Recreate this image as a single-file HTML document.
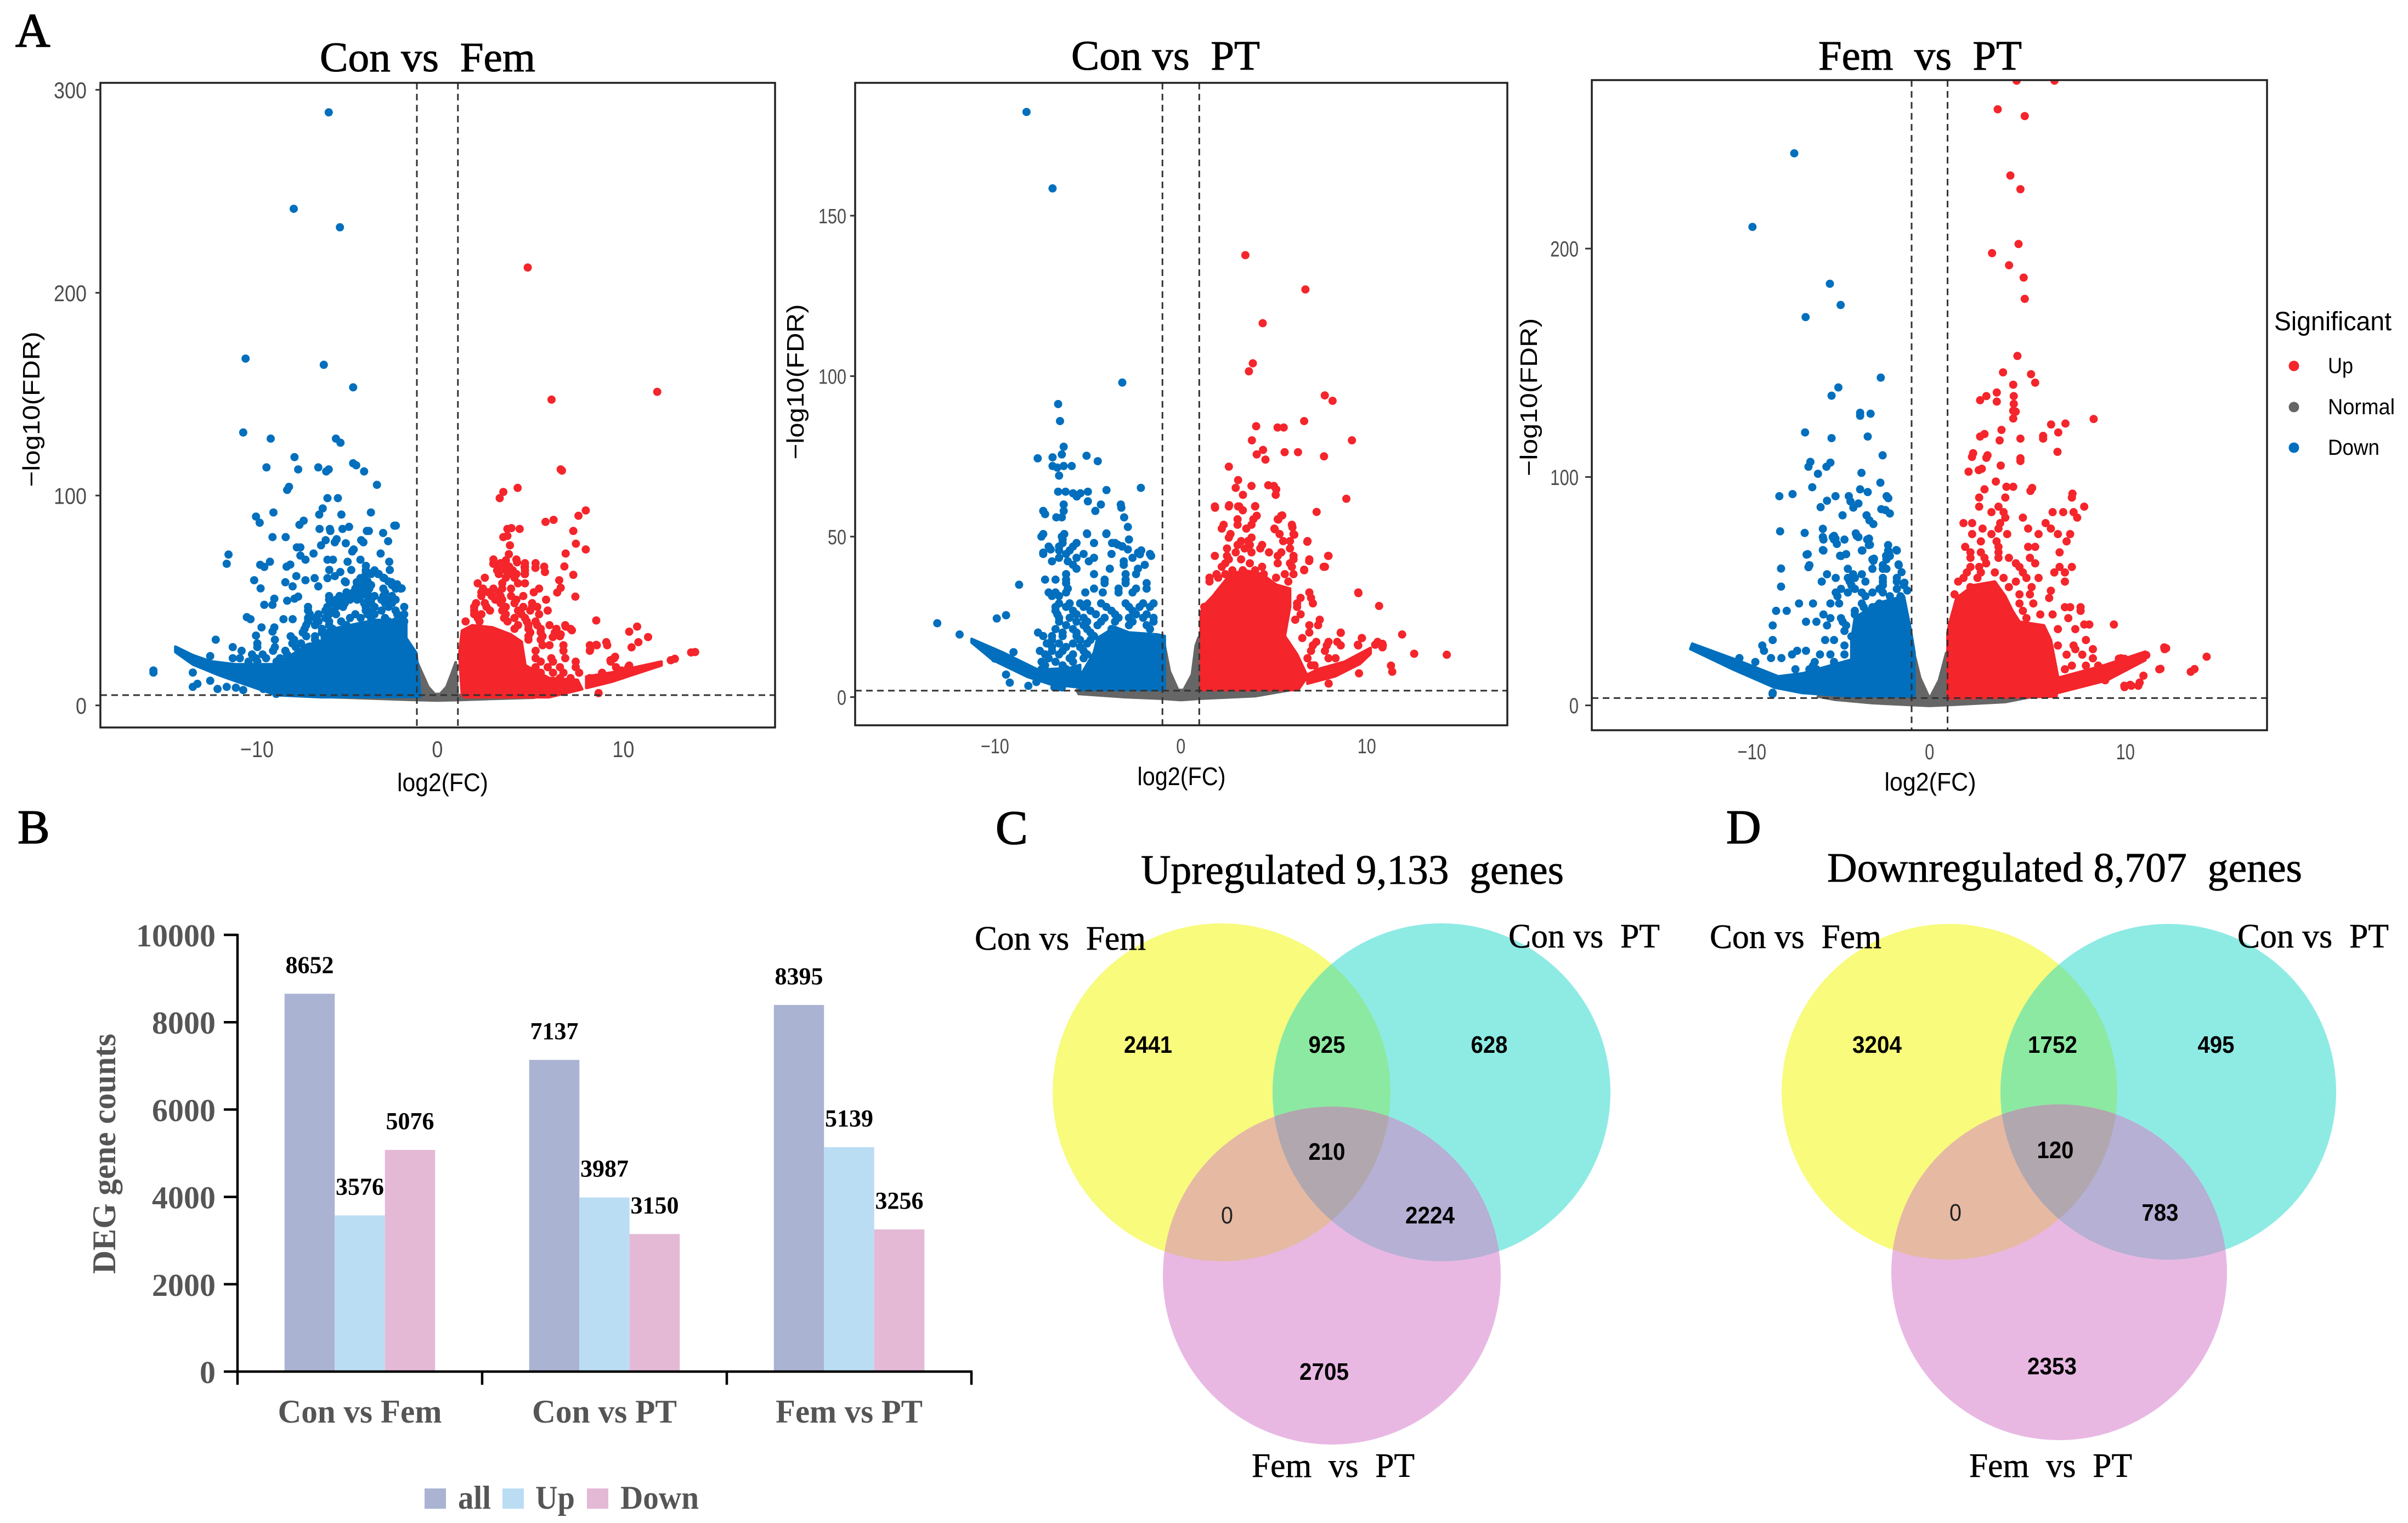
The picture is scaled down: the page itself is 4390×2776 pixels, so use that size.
<!DOCTYPE html>
<html lang="en">
<head>
<meta charset="utf-8">
<title>Differentially expressed genes: volcano plots, counts and Venn diagrams</title>
<style>
html,body{margin:0;padding:0;background:#fff}
svg{display:block}
text{white-space:pre}
.serif{font-family:"Liberation Serif",serif;fill:#000}
.sans{font-family:"Liberation Sans",sans-serif}
.panel-letter{font-size:88px;stroke:#000;stroke-width:1.6px}
.plot-title{font-size:76px;stroke:#000;stroke-width:1px}
.venn-title{font-size:76px;stroke:#000;stroke-width:.8px}
.venn-set{font-size:62px;stroke:#000;stroke-width:.6px}
.venn-num{font-family:"Liberation Sans",sans-serif;font-size:44px;font-weight:bold;text-anchor:middle;fill:#000}
.venn-zero{font-family:"Liberation Sans",sans-serif;font-size:44px;text-anchor:middle;fill:#222}
.bar-axis-text{font-family:"Liberation Serif",serif;font-weight:bold;fill:#555}
</style>
</head>
<body>
<svg id="figure" xmlns="http://www.w3.org/2000/svg" width="4390" height="2776" viewBox="0 0 4390 2776">
  <rect width="4390" height="2776" fill="#fff"/>

  <text class="serif panel-letter" x="28" y="85">A</text>
  <text class="serif panel-letter" x="32" y="1537">B</text>
  <text class="serif panel-letter" x="1815" y="1538">C</text>
  <text class="serif panel-letter" x="3147" y="1537">D</text>

  <text class="serif plot-title" x="583" y="130" textLength="393" lengthAdjust="spacingAndGlyphs">Con vs  Fem</text>
  <text class="serif plot-title" x="1953" y="127" textLength="344" lengthAdjust="spacingAndGlyphs">Con vs  PT</text>
  <text class="serif plot-title" x="3315" y="127" textLength="371" lengthAdjust="spacingAndGlyphs">Fem  vs  PT</text>

  <g id="volcanoes"></g>

  <g>
    <text class="sans" x="4146" y="602" font-size="48" textLength="214" lengthAdjust="spacingAndGlyphs" fill="#000">Significant</text>
    <circle cx="4182" cy="667" r="9.5" fill="#F4252B"/>
    <text class="sans" x="4244" y="680" font-size="40" textLength="46" lengthAdjust="spacingAndGlyphs" fill="#000">Up</text>
    <circle cx="4182" cy="742" r="9.5" fill="#666"/>
    <text class="sans" x="4244" y="755" font-size="40" textLength="122" lengthAdjust="spacingAndGlyphs" fill="#000">Normal</text>
    <circle cx="4182" cy="816" r="9.5" fill="#016FBD"/>
    <text class="sans" x="4244" y="829" font-size="40" textLength="94" lengthAdjust="spacingAndGlyphs" fill="#000">Down</text>
  </g>

  <g id="bars"></g>

  <defs>
    <clipPath id="cY"><circle cx="2227" cy="1991" r="308"/></clipPath>
    <clipPath id="cT"><circle cx="2628" cy="1991" r="308"/></clipPath>
    <clipPath id="dY"><circle cx="3554" cy="1990" r="306"/></clipPath>
    <clipPath id="dT"><circle cx="3953" cy="1990" r="306"/></clipPath>
  </defs>

  <g>
    <text class="serif venn-title" x="2080" y="1611" textLength="771" lengthAdjust="spacingAndGlyphs">Upregulated 9,133  genes</text>
    <circle cx="2227" cy="1991" r="308" fill="#F8FB7C"/>
    <circle cx="2628" cy="1991" r="308" fill="#8EEBE4"/>
    <circle cx="2428" cy="2325" r="308" fill="#E8B8E3"/>
    <circle cx="2628" cy="1991" r="308" fill="#8CE9A2" clip-path="url(#cY)"/>
    <circle cx="2428" cy="2325" r="308" fill="#E6B9A3" clip-path="url(#cY)"/>
    <circle cx="2428" cy="2325" r="308" fill="#B5B0D4" clip-path="url(#cT)"/>
    <g clip-path="url(#cY)"><circle cx="2428" cy="2325" r="308" fill="#B1A7AE" clip-path="url(#cT)"/></g>
    <text class="serif venn-set" x="1777" y="1731" textLength="312" lengthAdjust="spacingAndGlyphs">Con vs  Fem</text>
    <text class="serif venn-set" x="2750" y="1727" textLength="276" lengthAdjust="spacingAndGlyphs">Con vs  PT</text>
    <text class="serif venn-set" x="2282" y="2692" textLength="297" lengthAdjust="spacingAndGlyphs">Fem  vs  PT</text>
    <text class="venn-num" x="2093" y="1919" textLength="88" lengthAdjust="spacingAndGlyphs">2441</text>
    <text class="venn-num" x="2419" y="1919" textLength="67" lengthAdjust="spacingAndGlyphs">925</text>
    <text class="venn-num" x="2715" y="1919" textLength="67" lengthAdjust="spacingAndGlyphs">628</text>
    <text class="venn-num" x="2419" y="2114" textLength="67" lengthAdjust="spacingAndGlyphs">210</text>
    <text class="venn-zero" x="2237" y="2230" textLength="22" lengthAdjust="spacingAndGlyphs">0</text>
    <text class="venn-num" x="2607" y="2230" textLength="90" lengthAdjust="spacingAndGlyphs">2224</text>
    <text class="venn-num" x="2414" y="2515" textLength="90" lengthAdjust="spacingAndGlyphs">2705</text>
  </g>

  <g>
    <text class="serif venn-title" x="3331" y="1607" textLength="866" lengthAdjust="spacingAndGlyphs">Downregulated 8,707  genes</text>
    <circle cx="3554" cy="1990" r="306" fill="#F8FB7C"/>
    <circle cx="3953" cy="1990" r="306" fill="#8EEBE4"/>
    <circle cx="3754" cy="2319" r="306" fill="#E8B8E3"/>
    <circle cx="3953" cy="1990" r="306" fill="#8CE9A2" clip-path="url(#dY)"/>
    <circle cx="3754" cy="2319" r="306" fill="#E6B9A3" clip-path="url(#dY)"/>
    <circle cx="3754" cy="2319" r="306" fill="#B5B0D4" clip-path="url(#dT)"/>
    <g clip-path="url(#dY)"><circle cx="3754" cy="2319" r="306" fill="#B1A7AE" clip-path="url(#dT)"/></g>
    <text class="serif venn-set" x="3117" y="1728" textLength="313" lengthAdjust="spacingAndGlyphs">Con vs  Fem</text>
    <text class="serif venn-set" x="4079" y="1727" textLength="276" lengthAdjust="spacingAndGlyphs">Con vs  PT</text>
    <text class="serif venn-set" x="3590" y="2692" textLength="297" lengthAdjust="spacingAndGlyphs">Fem  vs  PT</text>
    <text class="venn-num" x="3422" y="1919" textLength="90" lengthAdjust="spacingAndGlyphs">3204</text>
    <text class="venn-num" x="3742" y="1919" textLength="90" lengthAdjust="spacingAndGlyphs">1752</text>
    <text class="venn-num" x="4040" y="1919" textLength="67" lengthAdjust="spacingAndGlyphs">495</text>
    <text class="venn-num" x="3747" y="2111" textLength="67" lengthAdjust="spacingAndGlyphs">120</text>
    <text class="venn-zero" x="3565" y="2225" textLength="22" lengthAdjust="spacingAndGlyphs">0</text>
    <text class="venn-num" x="3938" y="2225" textLength="67" lengthAdjust="spacingAndGlyphs">783</text>
    <text class="venn-num" x="3741" y="2505" textLength="90" lengthAdjust="spacingAndGlyphs">2353</text>
  </g>
</svg>

<script>
// ---------- bar chart data ----------
const barCategories = ['Con vs Fem', 'Con vs PT', 'Fem vs PT'];
const barAll = [8652, 7137, 8395];
const barUp = [3576, 3987, 5139];
const barDown = [5076, 3150, 3256];
const barTicks = [0, 2000, 4000, 6000, 8000, 10000];

// ---------- volcano data: [log2FC, -log10FDR] ----------
const xTickValues = [-10, 0, 10];
const femTicks = [0, 100, 200, 300];
const ptTicks = [0, 50, 100, 150];
const femPtTicks = [0, 100, 200];

const femDown = [[-5.93,289],[-7.84,242],[-5.32,233],[-10.47,169],[-6.2,166],[-4.6,155],[-10.6,133],[-9.1,130],[-5.54,130],[-5.29,128],[-7.8,121],[-9.33,116],[-7.6,115],[-6.5,116],[-6.07,114],[-5.93,115],[-4.6,118],[-4.43,117],[-4,114],[-3.3,107.5],[-8.1,106.5],[-8.2,105],[-6,101],[-5.43,101],[-6.26,96],[-6.45,93],[-8.95,94],[-9.9,92],[-9.7,89],[-5.24,93],[-3.63,94],[-7.3,90],[-7.53,88],[-2.35,87.6],[-2.27,87.6],[-6.43,86],[-5.87,86],[-5.84,85],[-5.18,86],[-4.82,87],[-3.85,85],[-3.74,85],[-2.96,84],[-9,82],[-8.28,82],[-2.69,80],[-4.16,80.5],[-4.04,79.5],[-5.5,81],[-5.6,79.5],[-6.1,80.5],[-6.35,78],[-5,79],[-7.67,77],[-7.48,77],[-4.57,76],[-4.65,75],[-7.48,73],[-7.2,71],[-6.76,74],[-3.1,74],[-11.4,73.5],[-11.5,69],[-9.14,70],[-9.67,68.5],[-9.45,67.5],[-8.03,68.6],[-8.23,67.6],[-2.63,70],[-6,71],[-5.7,71],[-4.9,70],[-4.2,71],[-3.9,68],[-3.5,65],[-3.2,64],[-2.9,62],[-2.5,60],[-2.2,59],[-1.95,57],[-2.6,66],[-10,61],[-9.65,57],[-8.3,60],[-7.7,63],[-7.9,58],[-7.2,61],[-6.7,62],[-6.5,58],[-6,62],[-5.9,66],[-5.6,63],[-5.3,65],[-5,60],[-4.7,66],[-4.4,60],[-4.2,62],[-7.6,53],[-7.8,52],[-8.2,51],[-8.9,52],[-9,49],[-9.45,49],[-7.9,42],[-8.4,42],[-8.9,38],[-9,36],[-10.2,42],[-10.4,43],[-9.6,38],[-9.9,34],[-12.1,32],[-12.4,24],[-13.35,16],[-13.35,9],[-13.1,10.5],[-12.4,12],[-12,8],[-11.5,9],[-11,8.6],[-10.6,7.5],[-9.5,8],[-8.8,5.6],[-15.5,17],[-15.5,16]];
const femDownRows = [[65.8,-3.91,-3.43],[64,-3.91,-3.62,-3.24],[62.2,-4,-2.95],[60.4,-3.81,-2.67,-5.05],[58.6,-4.38,-4,-3.62,-2.48],[56.9,-4.48,-4.1,-3.72,-2.95,-2.28,-2],[55.1,-4.96,-4.58,-4.19,-3.81,-2.86],[53.3,-5.91,-5.34,-4.96,-4.58,-4.19,-3.81,-3.43,-2.95,-2.48],[51.5,-5.91,-5.53,-5.15,-4.77,-4.38,-3.62,-3.05,-2.67,-2.28],[49.8,-5.82,-5.44,-5.05,-4,-3.62,-2.86,-2.48],[48,-7.06,-6.01,-5.53,-5.15,-3.91,-3.43,-2.67,-1.81],[46.2,-7.06,-6.11,-5.63,-3.91,-3.53,-3.05,-2.28],[44.4,-6.96,-6.49,-5.91,-5.53,-4.48,-3.81,-3.43,-2.19,-1.81],[42.6,-7.06,-6.68,-6.11,-4.77,-4.19,-3.62,-2.86,-1.9],[40.9,-7.06,-6.49,-5.91,-5.25,-2.67,-2.28,-1.81],[39.1,-7.16,-6.68,-5.91,-4.96],[37.3,-7.25,-6.3,-5.72],[35.5,-7.35,-6.3],[33.7,-8.01,-7.16,-6.68,-5.91],[32,-8.87,-7.82,-6.68,-6.11],[30.2,-9.83,-7.92,-7.44,-6.49],[28.4,-11.17,-9.83,-8.87,-7.73,-7.06,-6.68],[26.6,-10.69,-8.97,-8.3,-7.25,-6.87],[24.8,-10.12,-9.54,-8.2,-7.54,-6.77],[23,-11.17,-10.78,-9.92,-9.35,-8.59,-7.73],[21.3,-10.31,-9.83,-8.78,-8.2,-7.16]];
const femUp = [[4.93,213.4],[6.23,149],[12,152.8],[6.73,115],[6.8,114.4],[4.38,106],[3.6,104],[3.4,101],[8.1,95],[7.7,92.4],[6.34,90.4],[5.9,89.4],[7.42,85],[3.82,86],[4.04,86.4],[4.49,86],[3.6,82],[3.82,82.6],[7.56,78.8],[8.1,76],[3.96,78],[3.9,73.7],[7,74],[3.05,69],[3.55,68.7],[3.74,70.7],[4.35,69.7],[6.93,67.7],[4.76,67.4],[5.35,67],[4.76,64],[5.87,65],[7.42,63.6],[6.65,61],[6.73,57.3],[6.54,55],[7.53,53],[8.67,41.4],[7,38.4],[7.34,36.6],[6.73,34.6],[6.3,33.3],[10.9,38.4],[10.47,35.9],[11.5,33.3],[10.97,30.8],[10.6,28.3],[9.22,30.8],[8.67,29.5],[8.34,27.3],[9.7,23.7],[9.45,22],[10.47,19.4],[10.05,17],[12.74,22],[12.96,22.7],[13.85,25.8],[14.07,26],[8.8,6]];
const femUpRows = [[71.1,3.06,4.31],[69.3,3.45,3.73,4.78,5.36],[67.6,3.45,3.92,4.78,5.83],[65.8,3.26,3.73,4.11,4.78],[64,3.35,3.92,4.31,4.78],[62.2,2.59,3.73,4.21],[59.5,2.2,3.54,4.4,4.78],[56.9,2.49,3.06,3.54,4.02,5.55],[55.1,2.4,2.78,3.35,5.26],[53.3,2.4,2.97,3.45,4.02,4.69],[51.5,3.16,3.54,4.31,5.93],[49.8,2.11,2.59,3.45,4.21,5.17],[48,2.01,2.68,3.73,4.69,5.17,5.45],[46.2,2.01,2.87,3.54,4.4,5.07,6.02],[44.4,2.01,2.4,3.73,4.59,5.55],[42.6,2.2,3.64,4.21,4.78],[40.9,1.54,2.3,3.83,4.88,5.36],[39.1,4.4,4.97,5.45,6.12,6.98],[37.3,4.21,4.97,5.64,6.5,7.27],[35.5,5.07,5.64,6.41],[33.7,4.97,5.74,6.69],[32,4.97,5.64],[29.3,5.74,6.12,6.88,8.32,8.7,9.27],[26.6,5.36,6.88,8.32],[23,5.36,6.22,6.98,9.65],[21.3,5.64,6.31,7.55,9.46],[18.6,5.36,6.02,6.69,7.55,9.75,10.42],[15.9,5.64,6.31,6.88,7.74,8.99],[13.3,6.69,7.27,8.32]];
const ptDown = [[-8.3,182.3],[-6.9,158.5],[-3.15,98],[-6.6,91.3],[-6.5,86],[-6.3,78],[-6.9,74.7],[-6.4,75.6],[-7.7,74.4],[-5.07,75.2],[-4.47,73.5],[-6.9,72],[-6.65,71.5],[-6.3,72],[-5.87,72],[-6.55,69],[-2.15,65.2],[-4,64.5],[-6.6,64],[-6.2,64],[-5.8,63.5],[-5.4,63.5],[-5,64],[-5.6,62.5],[-5,61],[-4.6,58],[-4.3,60],[-3.23,60],[-3.2,59],[-3.05,56],[-2.85,53],[-7.4,58],[-7.3,57],[-6.7,56],[-6.4,56],[-6.3,58],[-6.3,60],[-5.05,51],[-4,51],[-7.5,50],[-6.4,50],[-3.7,48],[-3.4,47.5],[-3.15,47],[-2.85,46],[-2.3,45],[-2.2,44.5],[-1.6,44],[-7.4,45],[-7,46],[-8.7,35],[-9.9,24.5],[-9.4,25.5],[-13.1,23],[-11.9,19.5],[-9,14],[-10,12],[-9.4,7],[-9.2,4.5],[-8.2,3.5],[-6.8,3],[-6.4,3],[-7.7,6]];
const ptDownRows = [[50.8,-7.4,-6.27,-5.04,-4.01],[49.1,-6.36,-2.79],[48,-6.36,-5.61,-4.67,-3.54],[46.9,-7.11,-6.55,-5.8,-3.16],[45.7,-6.55,-5.98,-2.13],[44.6,-7.4,-6.17,-5.23,-3.73,-1.66],[43.4,-6.55,-5.61,-4.67,-2.6],[42.3,-6.93,-6.08,-4.95,-3.07],[41.2,-5.8,-3.07,-1.94],[40,-5.61,-3.82,-2.31],[38.3,-6.17,-4.67,-2.97,-2.41],[36.6,-7.3,-6.74,-6.17,-4.1,-2.97],[35.5,-6.17,-4.1,-2.97,-1.84],[33.8,-6.08,-4.67,-3.35,-2.41,-1.84],[32.6,-7.11,-6.74,-6.17,-5.14,-4.2,-3.35,-2.6],[31.5,-6.93,-6.55],[29.2,-6.55,-5.98,-5.42,-5.04,-4.29,-2.97,-2.03,-1.47],[28.1,-6.74,-6.17,-5.23,-4.01,-2.79,-2.22,-1.66],[26.9,-6.74,-5.8,-4.86,-3.73,-2.6],[25.8,-6.64,-5.61,-4.57,-3.54,-2.41,-1.84],[24.7,-6.55,-5.98,-5.23,-4.1,-3.35,-2.79,-2.03,-1.47],[23.5,-6.55,-5.61,-5.04,-4.29,-3.54,-2.6,-1.47],[22.4,-6.17,-5.23,-4.48,-2.79,-1.84],[21.2,-6.74,-5.8,-5.04,-3.73,-1.66],[20.1,-7.68,-6.36,-5.61,-4.86],[19,-7.4,-6.93,-6.36,-5.61,-4.67],[17.8,-6.93,-5.42,-4.86],[16.7,-7.21,-6.55,-5.8,-5.04],[15.6,-6.93,-6.17,-5.42],[14.4,-7.58,-6.93,-6.36,-5.23],[13.3,-7.3,-6.55,-5.8,-5.04],[12.1,-7.11,-5.98,-5.23],[11,-7.49,-6.74,-5.8],[9.9,-7.3,-6.36],[8.7,-7.49,-6.17],[6.4,-7.3,-6.74],[4.7,-7.77]];
const ptUp = [[3.47,137.7],[6.7,127],[4.4,116.5],[3.87,104],[3.66,101.5],[7.74,94],[8.16,92.3],[6.63,86],[4.05,84.4],[5.2,84],[5.53,84],[9.2,80],[3.82,80],[4.42,77],[4.08,75.6],[4.55,74],[5.58,76.3],[6.3,76.3],[7.7,75],[2.58,71.8],[3.08,67.6],[3.8,65.8],[2.95,65.2],[3.34,63],[4.7,66],[5,65.8],[5.13,64.7],[5.1,63],[8.9,61.8],[1.84,59],[2.6,59.8],[3.08,59.4],[4,59.5],[7.3,57.7],[5.45,56.6],[5.24,55.3],[5.05,52.3],[6,52.9],[6.1,50.6],[6.8,48.4],[7.92,44],[7.68,40.6],[6.9,42.4],[6.63,39.7],[9.55,32.4],[10.66,28.4],[11.9,19.5],[12.55,13.5],[14.3,13.2],[11.3,9.8],[11.37,7.9],[8.6,20],[9.74,18.4],[9.52,16.3],[10.45,16.3],[10.84,16.6],[10.84,15.5],[9.58,7.4],[7.95,4.2]];
const ptUpRows = [[59.4,1.83,2.58,3.14,3.99],[58.2,3.33],[56.5,4.08,5.4],[55.4,3.05,3.9,5.21],[53.7,2.3,3.05,3.8,5.97],[52.5,2.2,3.52,5.03],[50.8,2.67,5.31,6.06],[49.7,2.58,3.8],[48.6,3.24,3.61,5.5,5.87,6.81],[47.4,3.05,3.71,4.37],[46.3,2.48,3.43,4.27,5.87],[45.1,2.95,3.8,4.74,5.4],[44,1.83,2.48,5.21,6.06,7.94],[42.9,2.58,3.24,6.06,6.91],[41.7,2.39,3.71,5.21,5.87],[40.6,2.2,4.37,5.97,7.75],[39.5,2.77,3.33,3.99,6.63],[38.3,1.92,2.39,4.46,5.59,6.06],[37.2,1.54,2.01,5.12],[36,1.54,5.78],[32.6,6.91,9.54],[30.9,7,6.44],[29.2,7.1,5.68,6.25],[28.1,6.25,1.26,1.54],[25.8,5.59,6.44],[24.1,7.47,6.15],[22.4,6.91,7.38],[20.1,6.91,8.6],[18.4,6.53,9.73],[17.2,7.28,7.94,8.41,10.58],[16.1,7.1,7.85,8.6,9.54,10.86],[14.4,7,7.75],[12.1,6.81,7.94,8.32],[9.9,7.19,7]];
const femPtDown = [[-7.15,241.7],[-9.36,209.5],[-5.27,184.6],[-4.7,175.3],[-6.55,170],[-2.58,143.5],[-4.82,139.2],[-5.18,135.6],[-3.67,128.1],[-3.67,126.8],[-3.12,127.7],[-6.58,119.5],[-5.18,117],[-3.27,117.7],[-2.48,109.5],[-6.3,106.6],[-6.4,104.5],[-5.24,106.3],[-5.45,104.5],[-5.9,101.4],[-3.6,101.8],[-2.6,97.5],[-6.2,95.5],[-3.67,94.6],[-3.27,93.4],[-7.94,91.6],[-7.24,92.5],[-4.97,91.6],[-5.42,89.6],[-4.27,91.6],[-4.18,89.3],[-4.03,86.6],[-3.76,88.4],[-2.27,91.6],[-2.18,90.7],[-5.76,86.8],[-4.6,83.2],[-2.55,85.9],[-2.33,85.5],[-2.1,84],[-3.33,83.2],[-3.18,81],[-2.97,79.4],[-7.9,76.2],[-6.6,75.5],[-5.64,77.3],[-5.64,73.7],[-5.12,73.7],[-4.97,73],[-4.9,70.7],[-3.9,75.3],[-3.76,73.7],[-3.2,73],[-3.15,70.3],[-3.55,67.8],[-5.64,68],[-6.5,66],[-4.73,65.5],[-6.4,60.5],[-7.85,59.9],[-7.85,52],[-2.94,64.2],[-2.97,63.3],[-2.3,65.5],[-2.15,66.4],[-1.76,68],[-1.64,61.7],[-1.48,58.3],[-1.33,53.7],[-1.18,50.3],[-8.3,5]];
const femPtDownRows = [[74.2,-5.05,-3.85],[72.6,-5.61,-5.05,-4.5,-3.3],[70.2,-3.21,-2.19],[67.8,-5.61,-3.58,-2.19,-1.73],[66.2,-6.44,-4.41],[65.4,-4.68,-2.1],[63.9,-3.02,-2.28],[61.4,-6.35,-2.47,-1.63],[59.8,-4.32,-3.02,-2.47,-2.28],[57.4,-5.42,-4.04,-3.58],[55.8,-4.96,-4.32,-3.95,-2.47,-1.73],[54.2,-5.7,-4.22,-3.39,-2.47,-1.73],[52.6,-4.13,-2.47,-1.36],[51,-4.68,-3.95,-2.65,-1.73],[49.4,-4.96,-4.32,-3.58,-3.02,-2.47],[47.8,-4.87,-3.39,-2.1,-1.54],[44.6,-6.9,-6.16,-5.24,-4.78,-3.58,-2.65],[43,-3.48,-3.02,-2.47],[41.4,-8.11,-7.55,-3.95,-2.65,-2.1],[39.8,-5.61,-3.95,-3.21,-2.28,-1.73],[38.2,-5.24,-4.68,-3.76],[36.6,-6.53,-5.98,-4.59],[35,-8.29,-5.42,-4.41],[32.6,-4.5,-3.76],[30.2,-4.13],[28.6,-5.52,-5.05,-8.29],[26.2,-8.84,-4.5],[23.9,-7,-8.75,-6.53],[22.3,-7.27,-5.79,-5.24,-4.5],[20.7,-10.05,-8.38,-7.83],[19,-9.21,-6.07,-5.05],[17.4,-5.05,-6.16],[15.8,-7.09,-6.35,-5.98],[5.5,-8.29]];
const femPtUp = [[4.6,273.5],[6.6,273.5],[3.6,261],[5.03,258],[4.27,232],[4.8,226],[4.7,202],[3.3,198],[4.2,192.7],[4.97,187.3],[5.03,178],[4.64,153],[3.88,145.8],[5.36,145],[5.58,141.3],[3.55,137],[4.42,140.4],[3,135.4],[2.67,133.6],[3.55,133],[4.45,135.4],[4.45,132],[4.42,129],[4.55,128.6],[4.42,125.6],[8.67,125.4],[6.42,123],[7.18,123.4],[6.8,119.5],[6,118],[6,116.8],[3.8,120.6],[2.9,118.8],[2.67,117.7],[3.7,116],[4.8,116.8],[6.76,111],[2.3,110.4],[2.24,108.8],[3.06,109.5],[3,108.4],[4.8,108.2],[4.8,107],[3.76,105],[2.76,103.6],[2.6,103],[2.06,102.3],[3.5,98],[4.06,95.7],[4.42,95.7],[2.9,94.6],[5.42,95.2],[5.33,93.9],[7.55,92.7],[11.45,22],[10,20.4],[10.3,20.4],[12.4,25.4],[12.5,25],[12.2,16],[13.8,14.7],[14,15.9],[14.64,21.3],[11.3,13],[11.1,10],[10.6,9],[10.3,8]];
const femPtUpRows = [[91,2.62,4,7.52],[87,2.62,3.64,8.17],[84.6,3.27,3.91,6.5,7.06,7.61],[82.2,4,4.93,7.8],[79.8,1.79,2.25,3.73,6.13],[77.4,2.8,3.64,5.21,6.41],[75,2.25,3.27,4.1,5.76,6.78,7.43],[71.8,2.71,3.54,7.24],[69.4,1.88,3.64,5.21,5.58],[67,2.16,2.71,3.64,6.87],[64.6,2.16,2.9,3.64,4.19,5.3],[62.2,2.99,4.56,5.58],[60.6,2.16,2.62,4.75,6.87,7.52],[58.2,1.97,2.71,3.45,4.93,6.59,7.15],[55.8,1.79,2.53,3.91,5.12,5.76],[54.2,1.51,4.56,7.15],[51.8,2.16,2.71,4.19,5.39],[50.2,6.41],[48.6,1.32,4.75,5.3],[47,6.32],[44.6,5.48,4.75],[43,7.15,7.43,7.98],[41.4,4.93,7.98],[39.8,5.85,6.5],[38.2,7.33,5.12],[35.4,9.74,8.17,8.44],[33.4,6.78,7.7],[28.6,8.26],[26.2,7.61,6.78],[24.6,12.42,7.7,8.63],[22.2,7.24,8.07],[20.6,10.11,8.63],[17.4,7.52,8.91,8.26],[15.8,12.14,7.15],[12.6,8.07],[11,9.28],[8.6,11.03,10.66,10.29]];

// outlines of the solid, fully overlapped parts of each cloud
const femDownSolid = [[-6.3,4],[-6.3,36],[-5.34,38],[-3.4,41.6],[-1.7,41.6],[-1.7,32.8],[-1.15,25.5],[-0.93,5],[-0.93,4.2]];
const femDownBand = [[-14.3,28.6],[-13.36,24.5],[-12.4,21.5],[-11.07,20],[-8.78,20],[-7,30],[-6.3,30],[-6.3,4],[-8.78,5],[-11.07,12],[-12,15],[-13.36,20],[-14.3,26]];
const femUpSolid = [[1.34,5],[1.2,25],[1.34,36.4],[1.9,39],[3,38],[4,34.6],[4.6,31],[4.8,19.5],[6.1,13.3],[7.65,12.4],[7.9,7.9],[6.1,4],[1.5,4]];
const femUpBand = [[8.13,14],[9.5,16],[12.23,21.3],[12.23,19.5],[9.5,11.5],[8.13,8.5]];
const femNormal = [[-5.7,5],[-1.1,5],[-1.1,21],[-0.85,16],[-0.5,9],[-0.15,5.5],[0.15,5.5],[0.5,9],[0.8,16],[1,21],[1.1,5],[5.3,5],[5.3,3.8],[3,3.2],[1,2.6],[0,2.4],[-1,2.6],[-3,3.2],[-5.7,4]];

const ptDownSolid = [[-5.42,2.2],[-5.42,6.45],[-4.67,13.9],[-4.48,18.4],[-3.54,21.8],[-2.79,20.1],[-1.28,19.5],[-0.87,19],[-0.87,2.2]];
const ptDownBand = [[-11.25,18.1],[-9.56,13.85],[-7.68,8.5],[-6,9],[-5.42,10],[-5.42,3],[-7,4],[-8.24,6.3],[-10.1,11.5],[-11.25,17]];
const ptUpSolid = [[1.07,2.2],[1.07,26.4],[1.35,29.2],[1.73,31.5],[2.11,34.3],[2.67,38.3],[3.43,39.5],[4.37,38.3],[5.12,35],[5.87,33.8],[5.87,28.1],[5.59,19],[6.25,13.3],[6.81,6.4],[6.3,2.2]];
const ptUpBand = [[6.81,7],[7.38,8.7],[8.8,11],[10.2,15.3],[10.2,13.5],[9.64,10.4],[8.3,6.5],[6.81,4.2]];
const ptNormal = [[-0.92,17.5],[-0.6,8],[-0.15,2.2],[0.15,2.2],[0.6,7],[0.8,16],[0.95,18.5],[1,2.2],[5.9,2.2],[4,0.3],[1,-0.5],[0,-0.9],[-1,-0.5],[-3,0],[-5.5,1],[-5.6,2.2],[-0.9,2.2]];

const femPtDownSolid = [[-4.13,3.9],[-4.13,28.6],[-3.95,38.2],[-2.83,44.6],[-1.36,47.8],[-0.99,32.6],[-0.8,23],[-0.8,3.9]];
const femPtDownBand = [[-12.54,27],[-10.05,19.4],[-8,12.65],[-6.7,14],[-5,18],[-4.13,20],[-4.13,4],[-6.72,5.45],[-8.2,7.85],[-10.42,15.9],[-12.64,24.7]];
const femPtUpSolid = [[0.95,3],[0.95,31.8],[1.05,35.9],[1.42,47],[2.34,52.6],[3.45,54.2],[4,47.8],[4.38,41.4],[4.75,36.6],[6.04,35],[6.41,28.6],[6.78,12.6],[6.7,3.9]];
const femPtUpBand = [[6.78,12],[9.18,17.4],[11.4,23.5],[11.4,19.85],[9.37,11],[6.78,5.5]];
const femPtNormal = [[-5.9,3.9],[-0.85,3.9],[-0.85,23.8],[-0.5,12],[0,3],[0.5,11],[0.88,23],[0.9,3.9],[5.5,3.9],[4,1.5],[1,0.2],[0,-0.2],[-1,0.2],[-3,1],[-5,2.5]];

// ---------- helpers ----------
const SVGNS = 'http://www.w3.org/2000/svg';
function mk(parent, tag, attrs, text) {
  const el = document.createElementNS(SVGNS, tag);
  for (const k in attrs) el.setAttribute(k, attrs[k]);
  if (text !== undefined) el.textContent = text;
  parent.appendChild(el);
  return el;
}
function fromRows(rows) {
  const out = [];
  rows.forEach(function (row) {
    for (let i = 1; i < row.length; i++) out.push([row[i], row[0]]);
  });
  return out;
}
const COLORS = { up: '#F4252B', down: '#016FBD', normal: '#666666' };
const DOT_R = 7.5;

// ---------- volcano panels ----------
const panels = [
  { id:'con-vs-fem', left:183, right:1413, top:151, bottom:1326, x0:797.4, xk:33.4, y0:1285.7, yk:3.74,
    vline:1.12, hline:5, yTicks:femTicks, yNudge:[0,-8.5,-4,0], xNudge:[5,0,5], tickSize:42, tickEm:36,
    tickRight:158, tickLen:9, xLabelBase:1380, xTitle:[807,1442,166], yTitle:[72,746,283],
    normal:femNormal, downAreas:[femDownBand,femDownSolid], down:femDown.concat(fromRows(femDownRows)),
    upAreas:[femUpSolid,femUpBand], up:femUp.concat(fromRows(femUpRows)) },
  { id:'con-vs-pt', left:1559, right:2748, top:151, bottom:1322, x0:2152.8, xk:33.9, y0:1270.6, yk:5.85,
    vline:0.99, hline:2, yTicks:ptTicks, yNudge:[0,0,0,0], xNudge:[0,0,0], tickSize:38, tickEm:30.6,
    tickRight:1543, tickLen:9, xLabelBase:1373, xTitle:[2154,1431,161], yTitle:[1465,696,283],
    normal:ptNormal, downAreas:[ptDownBand,ptDownSolid], down:ptDown.concat(fromRows(ptDownRows)),
    upAreas:[ptUpSolid,ptUpBand], up:ptUp.concat(fromRows(ptUpRows)) },
  { id:'fem-vs-pt', left:2902, right:4133, top:146, bottom:1331, x0:3517.8, xk:34.5, y0:1285.7, yk:4.163,
    vline:0.95, hline:3.2, yTicks:femPtTicks, yNudge:[0,0,0], xNudge:[21,0,12], tickSize:40, tickEm:31,
    tickRight:2878, tickLen:12, xLabelBase:1384, xTitle:[3519,1441,167], yTitle:[2802,724,288],
    normal:femPtNormal, downAreas:[femPtDownBand,femPtDownSolid], down:femPtDown.concat(fromRows(femPtDownRows)),
    upAreas:[femPtUpSolid,femPtUpBand], up:femPtUp.concat(fromRows(femPtUpRows)) }
];

function xScale(p, v) { return p.x0 + p.xk * v; }
function yScale(p, v) { return p.y0 - p.yk * v; }
function pathOf(p, pts) { return pts.map(d => xScale(p, d[0]).toFixed(1) + ',' + yScale(p, d[1]).toFixed(1)).join(' '); }
function tickLength(p, txt) {
  const minus = txt.charAt(0) === '\u2212' ? 0.584 : 0;
  return ((txt.length - (minus ? 1 : 0)) * 0.556 + minus) * p.tickEm;
}

const volcanoRoot = document.getElementById('volcanoes');
panels.forEach(function (p) {
  const g = mk(volcanoRoot, 'g', {});
  
  

  const clipDefs = mk(g, 'defs', {});
  const clip = mk(clipDefs, 'clipPath', { id: 'clip-' + p.id });
  mk(clip, 'rect', { x: p.left, y: p.top, width: p.right - p.left, height: p.bottom - p.top });

  const marks = mk(g, 'g', { 'clip-path': 'url(#clip-' + p.id + ')' });
  
  

  // normal genes
  const normalArea = mk(marks, 'polygon', { points: pathOf(p, p.normal), fill: COLORS.normal, stroke: COLORS.normal, 'stroke-width': 5, 'stroke-linejoin': 'round' });
  
  

  // significant genes
  [['down', p.downAreas, p.down], ['up', p.upAreas, p.up]].forEach(function (s) {
    const color = COLORS[s[0]];
    s[1].forEach(function (area) {
      const cloud = mk(marks, 'polygon', { points: pathOf(p, area), fill: color, stroke: color, 'stroke-width': 5, 'stroke-linejoin': 'round' });
      
      
    });
    s[2].forEach(function (d) {
      const dot = mk(marks, 'circle', { cx: xScale(p, d[0]).toFixed(1), cy: yScale(p, d[1]).toFixed(1), r: DOT_R, fill: color });
      
      
    });
  });

  // thresholds
  [-p.vline, p.vline].forEach(function (v) {
    const line = mk(g, 'line', { x1: xScale(p, v), x2: xScale(p, v), y1: p.top, y2: p.bottom, stroke: '#333', 'stroke-width': 3, 'stroke-dasharray': '12 8' });
    
    
  });
  const hl = mk(g, 'line', { x1: p.left, x2: p.right, y1: yScale(p, p.hline), y2: yScale(p, p.hline), stroke: '#333', 'stroke-width': 3, 'stroke-dasharray': '12 8' });
  
  

  // frame
  const frame = mk(g, 'rect', { x: p.left, y: p.top, width: p.right - p.left, height: p.bottom - p.top, fill: 'none', stroke: '#222', 'stroke-width': 3.5 });
  
  

  // y axis ticks
  p.yTicks.forEach(function (v, i) {
    const y = yScale(p, v) + p.yNudge[i];
    const txt = String(v);
    const tick = mk(g, 'line', { x1: p.left - p.tickLen, x2: p.left, y1: y, y2: y, stroke: '#333', 'stroke-width': 3 });
    
    
    const lab = mk(g, 'text', { x: p.tickRight, y: y + p.tickSize * 0.36, 'text-anchor': 'end', 'font-size': p.tickSize, fill: '#4d4d4d', class: 'sans', textLength: tickLength(p, txt), lengthAdjust: 'spacingAndGlyphs' }, txt);
    
    
  });

  // x axis labels
  xTickValues.forEach(function (v, i) {
    const txt = v < 0 ? '\u2212' + Math.abs(v) : String(v);
    const lab = mk(g, 'text', { x: xScale(p, v) + p.xNudge[i], y: p.xLabelBase, 'text-anchor': 'middle', 'font-size': p.tickSize, fill: '#4d4d4d', class: 'sans', textLength: tickLength(p, txt), lengthAdjust: 'spacingAndGlyphs' }, txt);
    
    
  });

  const xt = mk(g, 'text', { x: p.xTitle[0], y: p.xTitle[1], 'text-anchor': 'middle', 'font-size': 46, fill: '#000', class: 'sans', textLength: p.xTitle[2], lengthAdjust: 'spacingAndGlyphs' }, 'log2(FC)');
  
  

  const yt = mk(g, 'text', { transform: 'translate(' + p.yTitle[0] + ',' + p.yTitle[1] + ') rotate(-90)', 'text-anchor': 'middle', 'font-size': 44, fill: '#000', class: 'sans', textLength: p.yTitle[2], lengthAdjust: 'spacingAndGlyphs' }, '\u2212log10(FDR)');
  
  
});

// ---------- bar chart ----------
const barRoot = document.getElementById('bars');
const barFrame = { left: 433, right: 1771, top: 1704, bottom: 2500, max: 10000, barW: 91.5 };
const barColors = { all: '#ABB3D3', up: '#BBDDF4', down: '#E4B9D6' };
function barY(v) { return barFrame.bottom - (barFrame.bottom - barFrame.top) * v / barFrame.max; }
function barGroupX(i) { return barFrame.left + (barFrame.right - barFrame.left) * (i + 0.5) / barCategories.length; }

barCategories.forEach(function (cat, i) {
  const cx = barGroupX(i);
  [['all', barAll[i]], ['up', barUp[i]], ['down', barDown[i]]].forEach(function (s, j) {
    const bx = cx + (j - 1.5) * barFrame.barW;
    const rect = mk(barRoot, 'rect', { x: bx, y: barY(s[1]), width: barFrame.barW, height: barFrame.bottom - barY(s[1]), fill: barColors[s[0]] });
    
    
    const val = mk(barRoot, 'text', { x: bx + barFrame.barW / 2, y: barY(s[1]) - 38, 'text-anchor': 'middle', 'font-size': 44, 'font-weight': 'bold', fill: '#222', class: 'serif', textLength: 88, lengthAdjust: 'spacingAndGlyphs' }, String(s[1]));
    
    
  });
  const widths = [299, 264, 268];
  const lab = mk(barRoot, 'text', { x: cx, y: 2593, 'text-anchor': 'middle', 'font-size': 60, class: 'bar-axis-text', textLength: widths[i], lengthAdjust: 'spacingAndGlyphs' }, cat);
  
  
});

const barYAxis = mk(barRoot, 'line', { x1: barFrame.left, x2: barFrame.left, y1: barFrame.top - 2, y2: barFrame.bottom + 2, stroke: '#000', 'stroke-width': 4.5 });


const barXAxis = mk(barRoot, 'line', { x1: barFrame.left - 2, x2: barFrame.right + 2, y1: barFrame.bottom, y2: barFrame.bottom, stroke: '#000', 'stroke-width': 4.5 });



barTicks.forEach(function (v) {
  const y = barY(v);
  const tick = mk(barRoot, 'line', { x1: barFrame.left - 25, x2: barFrame.left, y1: y, y2: y, stroke: '#000', 'stroke-width': 4.5 });
  
  
  const lab = mk(barRoot, 'text', { x: 393, y: y + 21, 'text-anchor': 'end', 'font-size': 58, class: 'bar-axis-text' }, String(v));
  
  
});
for (let i = 0; i <= barCategories.length; i++) {
  const x = barFrame.left + (barFrame.right - barFrame.left) * i / barCategories.length;
  const tick = mk(barRoot, 'line', { x1: x, x2: x, y1: barFrame.bottom, y2: barFrame.bottom + 24, stroke: '#000', 'stroke-width': 4.5 });
  
  
}

const barTitle = mk(barRoot, 'text', { transform: 'translate(210,2103) rotate(-90)', 'text-anchor': 'middle', 'font-size': 60, class: 'bar-axis-text', textLength: 438, lengthAdjust: 'spacingAndGlyphs' }, 'DEG gene counts');



const legendSwatchAll = mk(barRoot, 'rect', { x: 774, y: 2713, width: 39, height: 37, fill: barColors.all });


const legendTextAll = mk(barRoot, 'text', { x: 835, y: 2750, 'font-size': 60, class: 'bar-axis-text', textLength: 60, lengthAdjust: 'spacingAndGlyphs' }, 'all');


const legendSwatchUp = mk(barRoot, 'rect', { x: 916, y: 2713, width: 39, height: 37, fill: barColors.up });


const legendTextUp = mk(barRoot, 'text', { x: 976, y: 2750, 'font-size': 60, class: 'bar-axis-text', textLength: 72, lengthAdjust: 'spacingAndGlyphs' }, 'Up');


const legendSwatchDown = mk(barRoot, 'rect', { x: 1070, y: 2713, width: 39, height: 37, fill: barColors.down });


const legendTextDown = mk(barRoot, 'text', { x: 1131, y: 2750, 'font-size': 60, class: 'bar-axis-text', textLength: 143, lengthAdjust: 'spacingAndGlyphs' }, 'Down');


</script>
</body>
</html>
